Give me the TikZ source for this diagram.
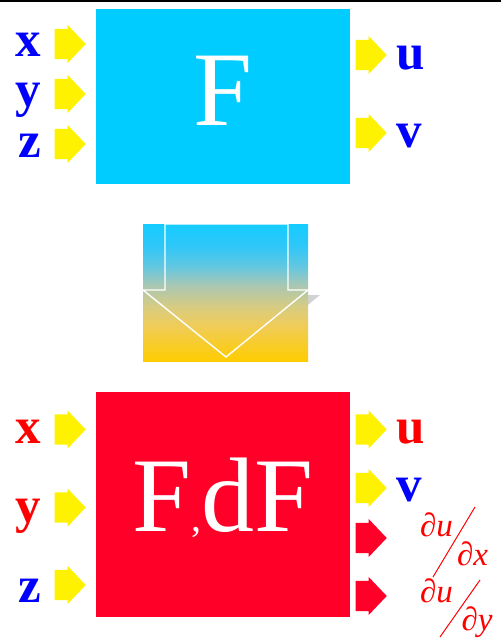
\documentclass[tikz,border=0pt]{standalone}
\usepackage{fontspec}
\setmainfont{Liberation Serif}
\usetikzlibrary{positioning,shapes.arrows}
\definecolor{boxcyan}{RGB}{0,204,255}
\definecolor{boxred}{RGB}{255,0,41}
\pgfdeclareverticalshading{transgrad}{100bp}{rgb(0bp)=(1,0.8,0); rgb(25bp)=(1,0.8,0);
  rgb(38bp)=(0.94,0.8,0.35); rgb(45bp)=(0.84,0.8,0.51); rgb(52.5bp)=(0.67,0.78,0.7);
  rgb(59.5bp)=(0.39,0.78,0.88); rgb(67bp)=(0.18,0.78,0.97); rgb(75bp)=(0.08,0.8,1);
  rgb(100bp)=(0.08,0.8,1)}

\begin{document}
\begin{tikzpicture}[x=1pt,y=-1pt,
  block/.style={minimum width=254pt,inner sep=0pt,text=white,font=\fontsize{106}{110}\selectfont},
  inarrow/.style={single arrow,single arrow head extend=4pt,single arrow tip angle=93,
    text height=30pt,text depth=0pt,minimum height=31pt,inner sep=0pt,fill=yellow,anchor=tip},
  var/.style={font=\fontsize{51}{56}\selectfont\bfseries,inner sep=0pt},
  part/.style={font=\fontsize{33}{36}\selectfont\itshape,text=red,inner sep=0pt}]
  \useasboundingbox (0,0) rectangle (501,639);
  \fill[black] (0,0) rectangle (501,2.5);
  % function block
  \node[block,fill=boxcyan,minimum height=175pt,text depth=12pt] (fbox) at (223,96.5) {F};
  \node[inarrow] (ti1) at (86,44) {};
  \node[inarrow] (ti2) at (86,94) {};
  \node[inarrow] (ti3) at (86,144) {};
  \node[inarrow] (to1) at (387,55) {};
  \node[inarrow] (to2) at (387,133) {};
  \node[var,text=blue,left=13pt of ti1,anchor=base east,yshift=-13pt] (tx) {x};
  \node[var,text=blue,left=13pt of ti2,anchor=base east,yshift=-13pt] (ty) {y};
  \node[var,text=blue,left=13pt of ti3,anchor=base east,yshift=-14pt] (tz) {z};
  \node[var,text=blue,right=9pt of to1,anchor=base west,yshift=-15pt] (tu) {u};
  \node[var,text=blue,right=9pt of to2,anchor=base west,yshift=-15pt] (tv) {v};
  % transformation arrow
  \fill[gray!35,shift={(12,5)}] (165,224) -- (165,290) -- (143,290) -- (226,357)
    -- (308,290) -- (288,290) -- (288,224) -- cycle;
  \shade[shading=transgrad] (143,224) rectangle (308,361);
  \draw[white,line width=1.4pt] (165,224) -- (165,290) -- (143,290) -- (226,357)
    -- (308,290) -- (288,290) -- (288,224) -- cycle;
  % differentiated block
  \node[block,fill=boxred,minimum height=225pt,text depth=20pt] (dfbox) at (223,504.5)
    {F{\fontsize{40}{40}\selectfont,}dF};
  \node[inarrow] (bi1) at (86,429.5) {};
  \node[inarrow] (bi2) at (86,507.5) {};
  \node[inarrow] (bi3) at (86,585) {};
  \node[inarrow] (bo1) at (387,429.5) {};
  \node[inarrow] (bo2) at (387,488) {};
  \node[inarrow,fill=boxred] (bo3) at (387,538) {};
  \node[inarrow,fill=boxred] (bo4) at (387,596) {};
  \node[var,text=red,left=13pt of bi1,anchor=base east,yshift=-13.5pt] (bx) {x};
  \node[var,text=red,left=13pt of bi2,anchor=base east,yshift=-14.5pt] (by) {y};
  \node[var,text=blue,left=13pt of bi3,anchor=base east,yshift=-17pt] (bz) {z};
  \node[var,text=red,right=9pt of bo1,anchor=base west,yshift=-13.5pt] (bu) {u};
  \node[var,text=blue,right=9pt of bo2,anchor=base west,yshift=-13pt] (bv) {v};
  \node[part] (du1) at (436.5,525) {∂u};
  \node[part] (dx1) at (472.5,553.5) {∂x};
  \draw[red,line width=1pt] (475,507) -- (433,577);
  \node[part] (du2) at (436.5,591) {∂u};
  \node[part] (dy2) at (477,622) {∂y};
  \draw[red,line width=1pt] (480,580) -- (440,637);
\end{tikzpicture}
\end{document}
